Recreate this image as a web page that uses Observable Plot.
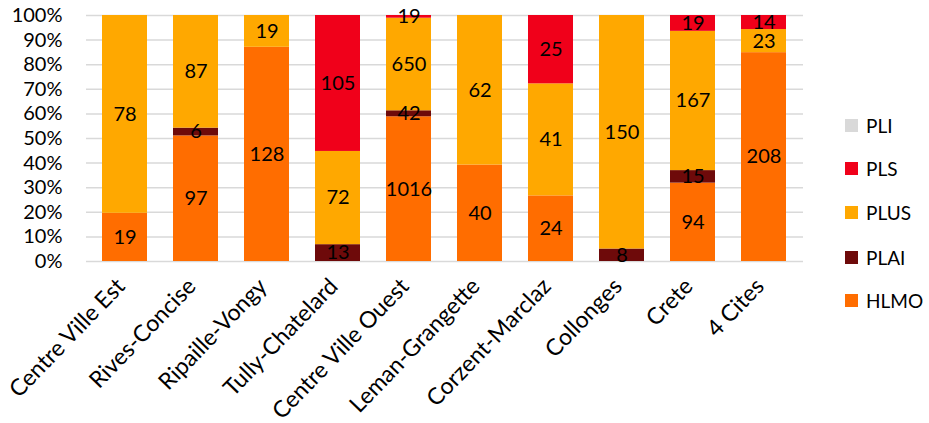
<!DOCTYPE html>
<html>
<head>
<meta charset="utf-8">
<script src="https://cdn.jsdelivr.net/npm/d3@7"></script>
<script src="https://cdn.jsdelivr.net/npm/@observablehq/plot@0.6"></script>
<style>
  html, body { margin: 0; padding: 0; background: #fff; }
  #wrap { position: relative; width: 929px; height: 423px; font-family: Lato, "Open Sans", sans-serif; }
  #legend { position: absolute; left: 845px; top: 0; }
  .item { position: absolute; left: 0; white-space: nowrap; font-size: 19px; color: #000; display: flex; align-items: center; }
  .sw { width: 13px; height: 13px; margin-right: 8px; }
</style>
</head>
<body>
<div id="wrap"><div id="chart"></div><div id="legend"></div></div>
<script>
const categories = ["Centre Ville Est", "Rives-Concise", "Ripaille-Vongy", "Tully-Chatelard", "Centre Ville Ouest", "Leman-Grangette", "Corzent-Marclaz", "Collonges", "Crete", "4 Cites"];
const seriesNames = ["HLMO", "PLAI", "PLUS", "PLS", "PLI"];
const colors = ["#FF6D00", "#6E0A0A", "#FFA800", "#F0001A", "#D9D9D9"];
const HLMO = [19, 97, 128, 0, 1016, 40, 24, 0, 94, 208];
const PLAI = [0, 6, 0, 13, 42, 0, 0, 8, 15, 0];
const PLUS = [78, 87, 19, 72, 650, 62, 41, 150, 167, 23];
const PLS  = [0, 0, 0, 105, 19, 0, 25, 0, 19, 14];
const PLI  = [0, 0, 0, 0, 0, 0, 0, 0, 0, 0];
const yTicks = [0, 0.1, 0.2, 0.3, 0.4, 0.5, 0.6, 0.7, 0.8, 0.9, 1];

const seriesValues = {HLMO, PLAI, PLUS, PLS, PLI};
const data = [];
categories.forEach((c, i) => {
  seriesNames.forEach(s => {
    const v = seriesValues[s][i];
    if (v > 0) data.push({cat: c, series: s, value: v});
  });
});

const stackOpts = {x: "cat", y: "value", z: "series", offset: "normalize", order: seriesNames};

const chart = Plot.plot({
  width: 929,
  height: 423,
  marginLeft: 86,
  marginRight: 126,
  marginTop: 15,
  marginBottom: 162,
  style: {fontFamily: "Lato, 'Open Sans', sans-serif", fontSize: "17px", color: "#000", background: "#fff"},
  x: {domain: categories, paddingInner: 0.36, paddingOuter: 0.18, label: null},
  y: {domain: [0, 1], label: null},
  color: {domain: seriesNames, range: colors},
  marks: [
    Plot.ruleY(yTicks, {stroke: "#D9D9D9", strokeWidth: 1.5}),
    Plot.barY(data, Plot.stackY({...stackOpts, fill: "series"})),
    Plot.text(data, Plot.stackY({...stackOpts, text: d => String(d.value), fill: "#000", fontSize: 20})),
    Plot.axisY({ticks: yTicks, tickFormat: d => Math.round(d * 100) + "%", tickSize: 0, tickPadding: 24, fontSize: 20, label: null}),
    Plot.axisX({tickSize: 0, tickRotate: -46, tickPadding: 4, dx: -4, dy: 17, fontSize: 23, label: null})
  ]
});
document.getElementById("chart").appendChild(chart);

const legendY = {PLI: 125, PLS: 168, PLUS: 212, PLAI: 257, HLMO: 300};
const legend = document.getElementById("legend");
[...seriesNames].reverse().forEach(s => {
  const item = document.createElement("div");
  item.className = "item";
  item.style.top = (legendY[s] - 12) + "px";
  item.style.height = "24px";
  const sw = document.createElement("div");
  sw.className = "sw";
  sw.style.background = colors[seriesNames.indexOf(s)];
  item.appendChild(sw);
  item.appendChild(document.createTextNode(s));
  legend.appendChild(item);
});
</script>
</body>
</html>
